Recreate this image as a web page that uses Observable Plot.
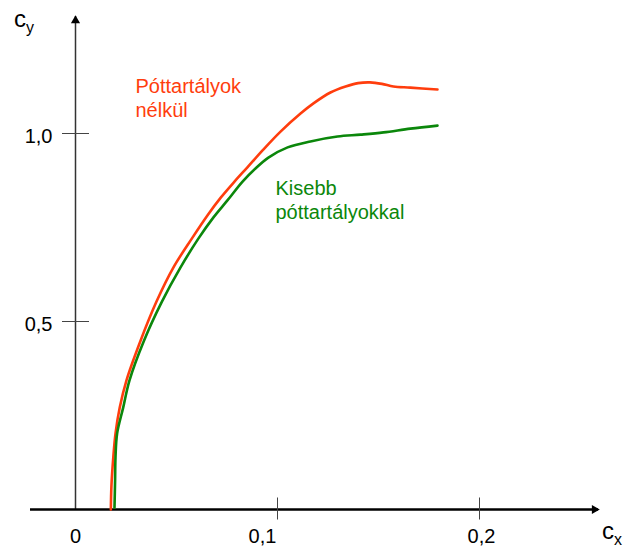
<!DOCTYPE html>
<html>
<head>
<meta charset="utf-8">
<script src="https://cdn.jsdelivr.net/npm/d3@7"></script>
<script src="https://cdn.jsdelivr.net/npm/@observablehq/plot@0.6"></script>
<style>
  html, body { margin: 0; padding: 0; background: #fff; }
  #chart { width: 629px; height: 554px; }
</style>
</head>
<body>
<div id="chart"></div>
<script>
// ---- data ----
const redCx   = [0.0175,0.0178,0.0187,0.0198,0.0219,0.0252,0.0322,0.0401,0.0485,0.0579,0.0653,0.0720,0.0787,0.0851,0.0926,0.1015,0.1114,0.1178,0.1262,0.1337,0.1399,0.1458,0.1517,0.1574,0.1658,0.1792];
const redCy   = [0.000,0.064,0.138,0.202,0.271,0.343,0.449,0.553,0.644,0.723,0.782,0.830,0.872,0.910,0.955,1.005,1.053,1.080,1.109,1.125,1.134,1.136,1.132,1.125,1.122,1.117];
const greenCx = [0.0193,0.0196,0.0198,0.0206,0.0236,0.0267,0.0339,0.0426,0.0520,0.0609,0.0683,0.0752,0.0827,0.0891,0.0955,0.1050,0.1163,0.1297,0.1411,0.1525,0.1658,0.1792];
const greenCy = [0.005,0.077,0.138,0.202,0.271,0.343,0.449,0.551,0.644,0.721,0.777,0.822,0.872,0.907,0.936,0.963,0.979,0.992,0.997,1.003,1.013,1.021];

const xTicks = [0, 0.1, 0.2];
const xTickLabels = ["0", "0,1", "0,2"];
const yTicks = [0.5, 1.0];
const yTickLabels = ["0,5", "1,0"];

const seriesNames = ["Póttartályok\nnélkül", "Kisebb\npóttartályokkal"];
const seriesLabelCx = [0.0297, 0.099];
const seriesLabelCy = [1.154, 0.883];

// ---- build ----
const RED = "#ff3d0d", GREEN = "#0b870b";
const red = redCx.map((x, i) => ({x, y: redCy[i]}));
const green = greenCx.map((x, i) => ({x, y: greenCy[i]}));
const FONT = "'Liberation Sans', Arial, Helvetica, sans-serif";

const hTick = {draw(ctx, size) { const r = Math.sqrt(size / Math.PI); ctx.moveTo(-r, 0); ctx.lineTo(r, 0); }};
const vTick = {draw(ctx, size) { const r = Math.sqrt(size / Math.PI); ctx.moveTo(0, -r); ctx.lineTo(0, r); }};

const xLabelShift = [0, -15, 2];

const marks = [
  // axes lines
  Plot.ruleX([0], {stroke: "#333", strokeWidth: 1.5}),
  Plot.ruleY([0], {stroke: "#000", strokeWidth: 2.5}),
  // arrow heads
  Plot.dot([0], {x: d => d, frameAnchor: "top", symbol: "triangle", r: 3.4, fill: "#000", stroke: "none", dy: 4}),
  Plot.dot([0], {y: d => d, frameAnchor: "right", symbol: "triangle", r: 3.4, fill: "#000", stroke: "none", rotate: 90, dx: -4}),
  // ticks
  Plot.dot(yTicks, {x: () => 0, y: d => d, symbol: hTick, r: 13.5, fill: "none", stroke: "#444", strokeWidth: 1}),
  Plot.dot(xTicks.filter(d => d > 0), {x: d => d, y: () => 0, symbol: vTick, r: 11, fill: "none", stroke: "#444", strokeWidth: 1, dy: -1}),
  // tick labels
  Plot.text(yTicks, {x: () => 0, y: d => d, text: (d, i) => yTickLabels[i], textAnchor: "end", dx: -23, dy: 3, fontSize: 20, fill: "#000"}),
  ...xTicks.map((t, i) => Plot.text([t], {x: d => d, y: () => 0, text: () => xTickLabels[i], dy: 27, dx: xLabelShift[i], fontSize: 20, fill: "#000"})),
  // curves
  Plot.line(red, {x: "x", y: "y", stroke: RED, strokeWidth: 2.6, curve: "catmull-rom"}),
  Plot.line(green, {x: "x", y: "y", stroke: GREEN, strokeWidth: 2.6, curve: "catmull-rom"}),
  // series labels
  Plot.text([0, 1], {x: i => seriesLabelCx[i], y: i => seriesLabelCy[i], text: i => seriesNames[i], fill: i => [RED, GREEN][i], textAnchor: "start", lineAnchor: "top", lineHeight: 1.22, fontSize: 20})
];

const chart = Plot.plot({
  width: 629,
  height: 554,
  marginLeft: 30,
  marginRight: 31,
  marginTop: 16,
  marginBottom: 45,
  x: {domain: [0, 0.2], range: [75, 479], axis: null},
  y: {domain: [0, 1], range: [509, 133], axis: null},
  color: {type: "identity"},
  style: {fontFamily: FONT, background: "#fff", overflow: "visible"},
  marks
});

// axis titles (c_y, c_x) with subscripts
const svg = d3.select(chart);
function title(x, y, main, sub) {
  const t = svg.append("text").attr("x", x).attr("y", y)
    .attr("text-anchor", "start")
    .attr("font-family", FONT).attr("font-size", 24).attr("fill", "#000");
  t.append("tspan").text(main);
  t.append("tspan").attr("font-size", 16).attr("dy", 6).text(sub);
}
title(14, 27, "c", "y");
title(602, 539, "c", "x");

document.getElementById("chart").appendChild(chart);
</script>
</body>
</html>
